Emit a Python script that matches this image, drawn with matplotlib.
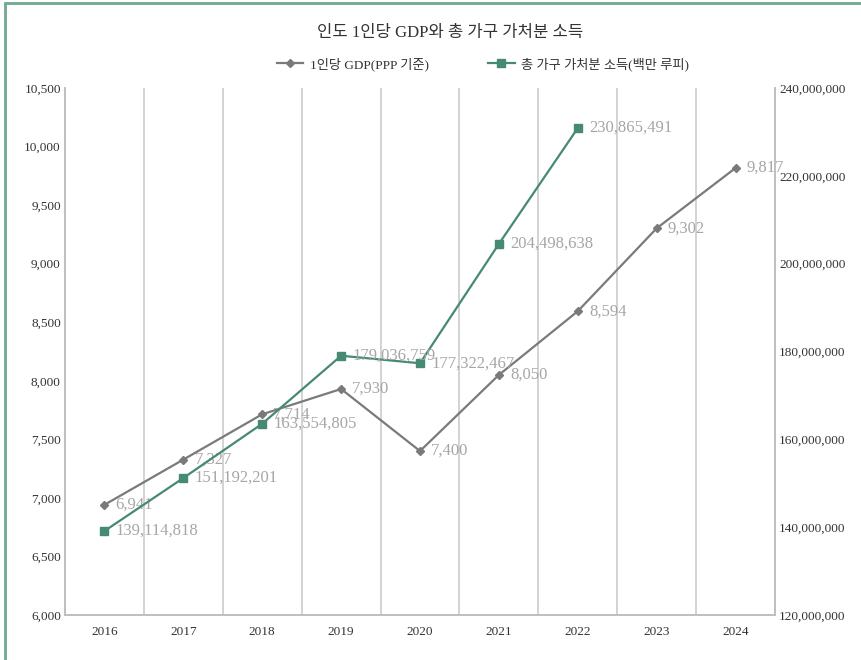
import matplotlib.pyplot as plt
from matplotlib.patches import Rectangle
from matplotlib.ticker import FuncFormatter, MultipleLocator

plt.rcParams['font.family'] = ['Liberation Serif', 'Noto Sans CJK KR', 'DejaVu Sans']

# data
years = [2016, 2017, 2018, 2019, 2020, 2021, 2022, 2023, 2024]
gdp_per_capita = [6941, 7327, 7714, 7930, 7400, 8050, 8594, 9302, 9817]
income_years = [2016, 2017, 2018, 2019, 2020, 2021, 2022]
disposable_income = [139114818, 151192201, 163554805, 179036759, 177322467, 204498638, 230865491]

title = '인도 1인당 GDP와 총 가구 가처분 소득'
label_gdp = '1인당 GDP(PPP 기준)'
label_income = '총 가구 가처분 소득(백만 루피)'

gray = '#7a7a7a'
green = '#468a72'
label_color = '#a6a6a6'
grid_color = '#cccccc'

fig = plt.figure(figsize=(8.62, 6.6), dpi=100)
# frame border (only left and top edges fall inside the picture)
fig.patches.append(Rectangle((5 / 862, -0.1), 1.2, 1.1 - 3 / 660,
                             transform=fig.transFigure, fill=False,
                             edgecolor='#6fa98f', linewidth=2))

ax = fig.add_axes([65 / 862, 1 - 615 / 660, 710 / 862, 527 / 660])
ax2 = ax.twinx()

ax.plot(years, gdp_per_capita, color=gray, linewidth=1.6, marker='D', markersize=4.5,
        label=label_gdp, zorder=3)
ax2.plot(income_years, disposable_income, color=green, linewidth=1.6, marker='s',
         markersize=5.5, label=label_income, zorder=3)

for x, y in zip(years, gdp_per_capita):
    ax.annotate(f'{y:,}', (x, y), xytext=(8, 0), textcoords='offset points',
                va='center', ha='left', fontsize=12, color=label_color)
for x, y in zip(income_years, disposable_income):
    ax2.annotate(f'{y:,}', (x, y), xytext=(8, 0), textcoords='offset points',
                 va='center', ha='left', fontsize=12, color=label_color)

ax.set_xlim(2015.5, 2024.5)
ax.set_ylim(6000, 10500)
ax2.set_ylim(120000000, 240000000)
ax.set_xticks(years)
ax.set_xticks([y + 0.5 for y in years[:-1]], minor=True)
ax.yaxis.set_major_locator(MultipleLocator(500))
ax2.yaxis.set_major_locator(MultipleLocator(20000000))
ax.yaxis.set_major_formatter(FuncFormatter(lambda v, p: f'{v:,.0f}'))
ax2.yaxis.set_major_formatter(FuncFormatter(lambda v, p: f'{v:,.0f}'))

ax.grid(True, which='minor', axis='x', color=grid_color, linewidth=1.2)
ax.tick_params(axis='x', which='both', length=0, labelsize=9.5, colors='#333333', pad=8)
ax.tick_params(axis='y', length=0, labelsize=9.5, colors='#333333', pad=3)
ax2.tick_params(axis='y', length=0, labelsize=9.5, colors='#333333', pad=3)

for a in (ax, ax2):
    for side in ('left', 'right', 'bottom'):
        a.spines[side].set_color('#bfbfbf')
        a.spines[side].set_linewidth(1.2)
    a.spines['top'].set_visible(False)

fig.text(450 / 862, 1 - 33 / 660, title, ha='center', va='center', fontsize=12, color='#333333')

h1, l1 = ax.get_legend_handles_labels()
h2, l2 = ax2.get_legend_handles_labels()
fig.legend(h1 + h2, l1 + l2, loc='center', bbox_to_anchor=(483 / 862, 1 - 64 / 660), ncol=2,
           frameon=False, fontsize=9.5, columnspacing=4.5, handlelength=2.0,
           handletextpad=0.5, labelcolor='#333333')

fig.savefig('out.png', dpi=100)
